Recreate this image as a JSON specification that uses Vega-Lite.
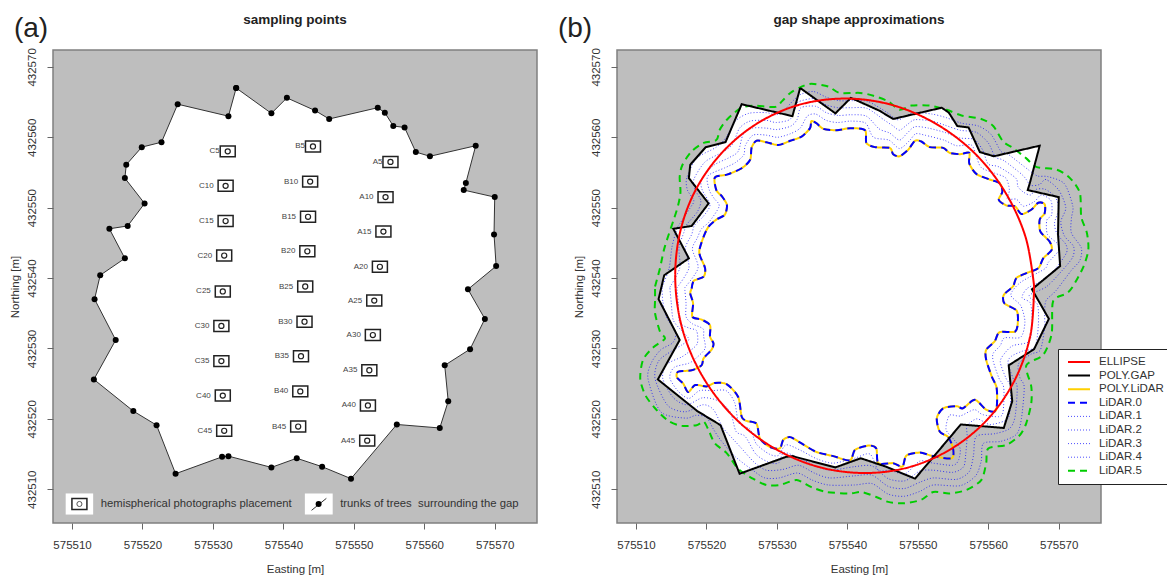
{"$schema":"https://vega.github.io/schema/vega-lite/v6.json","padding":{"left":8,"top":12,"right":0,"bottom":0},"bounds":"flush","spacing":80,
"config":{"font":"Liberation Sans","view":{"fill":"#BEBEBE","stroke":"#808080","strokeWidth":1.5},
"axis":{"grid":false,"domain":false,"tickColor":"#666666","tickSize":6,"tickWidth":1,"labelColor":"#333333","titleColor":"#333333","labelFontSize":11.5,"titleFontSize":11.5,"titleFontWeight":"normal","labelFlush":false,"labelOverlap":false},
"axisX":{"labelPadding":10,"titlePadding":13},"axisY":{"labelAngle":-90,"labelAlign":"center","labelBaseline":"bottom","labelPadding":10,"titlePadding":6},
"title":{"fontSize":13.5,"fontWeight":"bold","color":"#222222","offset":-12,"anchor":"middle"}},
"datasets":{
"trees":[{"e":575533.3,"n":432567.0},{"e":575538.3,"n":432563.4},{"e":575540.5,"n":432565.6},{"e":575544.5,"n":432563.8},{"e":575546.5,"n":432562.6},{"e":575553.4,"n":432564.2},{"e":575554.4,"n":432563.5},{"e":575555.6,"n":432561.6},{"e":575557.2,"n":432561.4},{"e":575558.8,"n":432557.9},{"e":575560.8,"n":432557.3},{"e":575567.3,"n":432558.8},{"e":575565.9,"n":432553.5},{"e":575565.6,"n":432552.5},{"e":575570.0,"n":432551.5},{"e":575569.9,"n":432546.2},{"e":575570.2,"n":432541.7},{"e":575566.2,"n":432538.4},{"e":575568.6,"n":432534.2},{"e":575566.5,"n":432529.9},{"e":575562.9,"n":432527.6},{"e":575563.4,"n":432522.5},{"e":575562.2,"n":432518.7},{"e":575556.1,"n":432519.2},{"e":575549.6,"n":432511.5},{"e":575545.5,"n":432513.2},{"e":575541.9,"n":432514.4},{"e":575538.3,"n":432513.1},{"e":575532.2,"n":432514.7},{"e":575531.3,"n":432514.6},{"e":575524.7,"n":432512.2},{"e":575522.0,"n":432519.1},{"e":575518.7,"n":432521.1},{"e":575513.1,"n":432525.6},{"e":575516.2,"n":432531.2},{"e":575513.2,"n":432537.0},{"e":575514.0,"n":432540.4},{"e":575517.5,"n":432542.8},{"e":575515.3,"n":432547.0},{"e":575517.9,"n":432547.4},{"e":575520.3,"n":432550.6},{"e":575517.5,"n":432554.2},{"e":575517.7,"n":432556.1},{"e":575519.9,"n":432558.6},{"e":575522.7,"n":432559.3},{"e":575525.0,"n":432564.7},{"e":575532.2,"n":432563.0},{"e":575533.3,"n":432567.0}],
"sites":[{"label":"C5","e":575532.1,"n":432558.0},{"label":"C10","e":575531.8,"n":432553.1},{"label":"C15","e":575531.8,"n":432548.1},{"label":"C20","e":575531.6,"n":432543.2},{"label":"C25","e":575531.4,"n":432538.1},{"label":"C30","e":575531.2,"n":432533.2},{"label":"C35","e":575531.2,"n":432528.2},{"label":"C40","e":575531.4,"n":432523.3},{"label":"C45","e":575531.6,"n":432518.3},{"label":"B5","e":575544.2,"n":432558.7},{"label":"B10","e":575543.8,"n":432553.7},{"label":"B15","e":575543.5,"n":432548.7},{"label":"B20","e":575543.4,"n":432543.8},{"label":"B25","e":575543.1,"n":432538.8},{"label":"B30","e":575543.0,"n":432533.8},{"label":"B35","e":575542.5,"n":432528.9},{"label":"B40","e":575542.4,"n":432523.9},{"label":"B45","e":575542.1,"n":432518.9},{"label":"A5","e":575555.2,"n":432556.5},{"label":"A10","e":575554.5,"n":432551.5},{"label":"A15","e":575554.2,"n":432546.6},{"label":"A20","e":575553.7,"n":432541.6},{"label":"A25","e":575552.9,"n":432536.8},{"label":"A30","e":575552.7,"n":432531.9},{"label":"A35","e":575552.2,"n":432526.9},{"label":"A40","e":575552.0,"n":432521.9},{"label":"A45","e":575551.9,"n":432516.9}],
"ellipse":[{"s":"ELLIPSE","e":575566.5,"n":432538.9},{"s":"ELLIPSE","e":575566.0,"n":432532.0},{"s":"ELLIPSE","e":575563.8,"n":432525.6},{"s":"ELLIPSE","e":575560.05,"n":432520.1},{"s":"ELLIPSE","e":575555.0,"n":432515.9},{"s":"ELLIPSE","e":575549.0,"n":432513.2},{"s":"ELLIPSE","e":575542.5,"n":432512.3},{"s":"ELLIPSE","e":575535.8,"n":432513.2},{"s":"ELLIPSE","e":575529.5,"n":432515.9},{"s":"ELLIPSE","e":575524.05,"n":432520.1},{"s":"ELLIPSE","e":575519.7,"n":432525.6},{"s":"ELLIPSE","e":575516.8,"n":432532.0},{"s":"ELLIPSE","e":575515.6,"n":432538.9},{"s":"ELLIPSE","e":575516.1,"n":432545.8},{"s":"ELLIPSE","e":575518.3,"n":432552.2},{"s":"ELLIPSE","e":575522.1,"n":432557.7},{"s":"ELLIPSE","e":575527.1,"n":432561.9},{"s":"ELLIPSE","e":575533.1,"n":432564.6},{"s":"ELLIPSE","e":575539.7,"n":432565.5},{"s":"ELLIPSE","e":575546.3,"n":432564.6},{"s":"ELLIPSE","e":575552.6,"n":432561.9},{"s":"ELLIPSE","e":575558.1,"n":432557.7},{"s":"ELLIPSE","e":575562.4,"n":432552.2},{"s":"ELLIPSE","e":575565.3,"n":432545.8},{"s":"ELLIPSE","e":575566.5,"n":432538.9}],
"dots":[
{"s":"LiDAR.1","e":575516.9,"n":432538.6},{"s":"LiDAR.1","e":575518.8,"n":432541.4},{"s":"LiDAR.1","e":575518.0,"n":432544.1},{"s":"LiDAR.1","e":575518.7,"n":432545.7},{"s":"LiDAR.1","e":575519.3,"n":432547.0},{"s":"LiDAR.1","e":575520.4,"n":432548.0},{"s":"LiDAR.1","e":575521.8,"n":432550.2},{"s":"LiDAR.1","e":575521.1,"n":432551.3},{"s":"LiDAR.1","e":575520.4,"n":432552.5},{"s":"LiDAR.1","e":575520.2,"n":432554.5},{"s":"LiDAR.1","e":575522.7,"n":432555.7},{"s":"LiDAR.1","e":575524.1,"n":432556.4},{"s":"LiDAR.1","e":575525.3,"n":432557.5},{"s":"LiDAR.1","e":575525.5,"n":432558.8},{"s":"LiDAR.1","e":575526.6,"n":432560.3},{"s":"LiDAR.1","e":575528.5,"n":432560.3},{"s":"LiDAR.1","e":575530.1,"n":432560.0},{"s":"LiDAR.1","e":575531.9,"n":432560.5},{"s":"LiDAR.1","e":575533.3,"n":432561.3},{"s":"LiDAR.1","e":575534.3,"n":432563.0},{"s":"LiDAR.1","e":575535.5,"n":432563.3},{"s":"LiDAR.1","e":575537.0,"n":432562.4},{"s":"LiDAR.1","e":575538.6,"n":432562.1},{"s":"LiDAR.1","e":575540.5,"n":432562.3},{"s":"LiDAR.1","e":575542.6,"n":432562.0},{"s":"LiDAR.1","e":575543.7,"n":432560.0},{"s":"LiDAR.1","e":575545.9,"n":432559.6},{"s":"LiDAR.1","e":575547.4,"n":432558.4},{"s":"LiDAR.1","e":575548.8,"n":432559.5},{"s":"LiDAR.1","e":575549.7,"n":432560.5},{"s":"LiDAR.1","e":575551.0,"n":432560.3},{"s":"LiDAR.1","e":575553.7,"n":432559.6},{"s":"LiDAR.1","e":575555.5,"n":432558.8},{"s":"LiDAR.1","e":575557.6,"n":432558.9},{"s":"LiDAR.1","e":575558.3,"n":432557.3},{"s":"LiDAR.1","e":575559.0,"n":432555.7},{"s":"LiDAR.1","e":575560.9,"n":432554.9},{"s":"LiDAR.1","e":575562.5,"n":432554.2},{"s":"LiDAR.1","e":575563.0,"n":432552.5},{"s":"LiDAR.1","e":575562.7,"n":432551.2},{"s":"LiDAR.1","e":575564.0,"n":432551.2},{"s":"LiDAR.1","e":575565.0,"n":432550.2},{"s":"LiDAR.1","e":575566.6,"n":432550.9},{"s":"LiDAR.1","e":575567.5,"n":432551.8},{"s":"LiDAR.1","e":575568.9,"n":432551.0},{"s":"LiDAR.1","e":575569.0,"n":432549.0},{"s":"LiDAR.1","e":575568.3,"n":432548.2},{"s":"LiDAR.1","e":575568.4,"n":432546.2},{"s":"LiDAR.1","e":575569.8,"n":432544.9},{"s":"LiDAR.1","e":575570.0,"n":432543.9},{"s":"LiDAR.1","e":575568.5,"n":432542.2},{"s":"LiDAR.1","e":575568.0,"n":432541.3},{"s":"LiDAR.1","e":575564.6,"n":432539.4},{"s":"LiDAR.1","e":575563.2,"n":432537.6},{"s":"LiDAR.1","e":575564.6,"n":432536.1},{"s":"LiDAR.1","e":575565.2,"n":432533.8},{"s":"LiDAR.1","e":575564.6,"n":432531.6},{"s":"LiDAR.1","e":575562.3,"n":432531.5},{"s":"LiDAR.1","e":575561.7,"n":432530.4},{"s":"LiDAR.1","e":575560.7,"n":432529.3},{"s":"LiDAR.1","e":575560.7,"n":432528.2},{"s":"LiDAR.1","e":575561.5,"n":432525.8},{"s":"LiDAR.1","e":575562.2,"n":432524.4},{"s":"LiDAR.1","e":575562.1,"n":432521.0},{"s":"LiDAR.1","e":575561.5,"n":432520.3},{"s":"LiDAR.1","e":575559.2,"n":432520.6},{"s":"LiDAR.1","e":575558.0,"n":432521.3},{"s":"LiDAR.1","e":575556.0,"n":432520.4},{"s":"LiDAR.1","e":575554.5,"n":432520.5},{"s":"LiDAR.1","e":575554.0,"n":432518.5},{"s":"LiDAR.1","e":575555.0,"n":432517.2},{"s":"LiDAR.1","e":575556.0,"n":432515.8},{"s":"LiDAR.1","e":575555.8,"n":432514.2},{"s":"LiDAR.1","e":575555.0,"n":432513.4},{"s":"LiDAR.1","e":575552.2,"n":432513.7},{"s":"LiDAR.1","e":575550.3,"n":432514.0},{"s":"LiDAR.1","e":575548.2,"n":432512.2},{"s":"LiDAR.1","e":575546.0,"n":432512.7},{"s":"LiDAR.1","e":575544.4,"n":432512.7},{"s":"LiDAR.1","e":575543.2,"n":432515.0},{"s":"LiDAR.1","e":575541.0,"n":432514.4},{"s":"LiDAR.1","e":575538.0,"n":432513.7},{"s":"LiDAR.1","e":575535.7,"n":432514.3},{"s":"LiDAR.1","e":575533.4,"n":432515.5},{"s":"LiDAR.1","e":575531.3,"n":432516.3},{"s":"LiDAR.1","e":575530.2,"n":432514.8},{"s":"LiDAR.1","e":575528.9,"n":432515.0},{"s":"LiDAR.1","e":575527.1,"n":432516.4},{"s":"LiDAR.1","e":575526.2,"n":432518.5},{"s":"LiDAR.1","e":575524.6,"n":432519.4},{"s":"LiDAR.1","e":575524.0,"n":432522.3},{"s":"LiDAR.1","e":575522.8,"n":432524.0},{"s":"LiDAR.1","e":575520.8,"n":432524.0},{"s":"LiDAR.1","e":575519.0,"n":432524.0},{"s":"LiDAR.1","e":575517.5,"n":432522.9},{"s":"LiDAR.1","e":575516.0,"n":432523.9},{"s":"LiDAR.1","e":575514.8,"n":432525.8},{"s":"LiDAR.1","e":575515.4,"n":432527.3},{"s":"LiDAR.1","e":575517.5,"n":432527.9},{"s":"LiDAR.1","e":575518.5,"n":432528.6},{"s":"LiDAR.1","e":575519.8,"n":432530.0},{"s":"LiDAR.1","e":575519.6,"n":432531.7},{"s":"LiDAR.1","e":575519.5,"n":432532.8},{"s":"LiDAR.1","e":575518.0,"n":432533.5},{"s":"LiDAR.1","e":575517.1,"n":432534.5},{"s":"LiDAR.1","e":575517.1,"n":432536.4},{"s":"LiDAR.1","e":575516.9,"n":432538.6},
{"s":"LiDAR.2","e":575515.8,"n":432538.6},{"s":"LiDAR.2","e":575517.5,"n":432541.4},{"s":"LiDAR.2","e":575517.0,"n":432544.2},{"s":"LiDAR.2","e":575517.9,"n":432546.2},{"s":"LiDAR.2","e":575518.3,"n":432547.5},{"s":"LiDAR.2","e":575519.5,"n":432548.7},{"s":"LiDAR.2","e":575520.5,"n":432550.4},{"s":"LiDAR.2","e":575519.4,"n":432552.5},{"s":"LiDAR.2","e":575519.3,"n":432554.0},{"s":"LiDAR.2","e":575521.0,"n":432556.0},{"s":"LiDAR.2","e":575523.2,"n":432557.1},{"s":"LiDAR.2","e":575524.5,"n":432558.0},{"s":"LiDAR.2","e":575525.2,"n":432560.4},{"s":"LiDAR.2","e":575526.5,"n":432561.3},{"s":"LiDAR.2","e":575528.5,"n":432561.3},{"s":"LiDAR.2","e":575530.0,"n":432561.1},{"s":"LiDAR.2","e":575532.0,"n":432561.6},{"s":"LiDAR.2","e":575532.9,"n":432562.6},{"s":"LiDAR.2","e":575533.4,"n":432564.2},{"s":"LiDAR.2","e":575535.5,"n":432564.4},{"s":"LiDAR.2","e":575537.0,"n":432563.5},{"s":"LiDAR.2","e":575538.7,"n":432563.1},{"s":"LiDAR.2","e":575540.5,"n":432563.2},{"s":"LiDAR.2","e":575542.7,"n":432563.0},{"s":"LiDAR.2","e":575544.5,"n":432561.2},{"s":"LiDAR.2","e":575546.0,"n":432560.6},{"s":"LiDAR.2","e":575547.4,"n":432559.6},{"s":"LiDAR.2","e":575548.5,"n":432560.6},{"s":"LiDAR.2","e":575549.6,"n":432561.5},{"s":"LiDAR.2","e":575551.5,"n":432561.3},{"s":"LiDAR.2","e":575553.8,"n":432560.7},{"s":"LiDAR.2","e":575556.0,"n":432559.9},{"s":"LiDAR.2","e":575558.0,"n":432559.7},{"s":"LiDAR.2","e":575559.2,"n":432558.2},{"s":"LiDAR.2","e":575560.0,"n":432556.2},{"s":"LiDAR.2","e":575561.5,"n":432555.8},{"s":"LiDAR.2","e":575563.9,"n":432554.2},{"s":"LiDAR.2","e":575564.2,"n":432553.0},{"s":"LiDAR.2","e":575565.0,"n":432552.2},{"s":"LiDAR.2","e":575566.0,"n":432551.8},{"s":"LiDAR.2","e":575566.8,"n":432552.6},{"s":"LiDAR.2","e":575568.1,"n":432552.6},{"s":"LiDAR.2","e":575569.5,"n":432551.5},{"s":"LiDAR.2","e":575570.0,"n":432549.8},{"s":"LiDAR.2","e":575569.4,"n":432547.8},{"s":"LiDAR.2","e":575569.8,"n":432546.2},{"s":"LiDAR.2","e":575571.0,"n":432544.8},{"s":"LiDAR.2","e":575571.1,"n":432543.6},{"s":"LiDAR.2","e":575569.5,"n":432541.3},{"s":"LiDAR.2","e":575567.5,"n":432539.6},{"s":"LiDAR.2","e":575565.5,"n":432538.5},{"s":"LiDAR.2","e":575564.8,"n":432537.2},{"s":"LiDAR.2","e":575566.0,"n":432536.4},{"s":"LiDAR.2","e":575566.2,"n":432533.5},{"s":"LiDAR.2","e":575565.8,"n":432531.0},{"s":"LiDAR.2","e":575563.5,"n":432530.4},{"s":"LiDAR.2","e":575562.4,"n":432529.4},{"s":"LiDAR.2","e":575561.7,"n":432528.1},{"s":"LiDAR.2","e":575562.5,"n":432525.8},{"s":"LiDAR.2","e":575563.2,"n":432524.4},{"s":"LiDAR.2","e":575563.0,"n":432520.6},{"s":"LiDAR.2","e":575562.3,"n":432519.7},{"s":"LiDAR.2","e":575560.2,"n":432519.2},{"s":"LiDAR.2","e":575558.4,"n":432520.0},{"s":"LiDAR.2","e":575557.0,"n":432519.0},{"s":"LiDAR.2","e":575557.0,"n":432517.5},{"s":"LiDAR.2","e":575556.8,"n":432515.0},{"s":"LiDAR.2","e":575556.5,"n":432513.2},{"s":"LiDAR.2","e":575555.0,"n":432512.4},{"s":"LiDAR.2","e":575552.2,"n":432512.7},{"s":"LiDAR.2","e":575550.3,"n":432512.6},{"s":"LiDAR.2","e":575548.2,"n":432511.2},{"s":"LiDAR.2","e":575545.8,"n":432511.5},{"s":"LiDAR.2","e":575543.5,"n":432513.3},{"s":"LiDAR.2","e":575541.0,"n":432513.2},{"s":"LiDAR.2","e":575537.6,"n":432512.7},{"s":"LiDAR.2","e":575535.5,"n":432513.3},{"s":"LiDAR.2","e":575533.2,"n":432514.4},{"s":"LiDAR.2","e":575531.0,"n":432515.2},{"s":"LiDAR.2","e":575530.2,"n":432513.7},{"s":"LiDAR.2","e":575528.7,"n":432513.9},{"s":"LiDAR.2","e":575527.0,"n":432515.0},{"s":"LiDAR.2","e":575525.5,"n":432517.5},{"s":"LiDAR.2","e":575524.2,"n":432518.2},{"s":"LiDAR.2","e":575523.4,"n":432520.9},{"s":"LiDAR.2","e":575521.8,"n":432522.5},{"s":"LiDAR.2","e":575519.5,"n":432523.0},{"s":"LiDAR.2","e":575517.2,"n":432522.0},{"s":"LiDAR.2","e":575515.3,"n":432523.0},{"s":"LiDAR.2","e":575513.8,"n":432525.7},{"s":"LiDAR.2","e":575514.3,"n":432527.7},{"s":"LiDAR.2","e":575516.5,"n":432528.8},{"s":"LiDAR.2","e":575517.6,"n":432529.6},{"s":"LiDAR.2","e":575518.7,"n":432530.7},{"s":"LiDAR.2","e":575518.6,"n":432532.5},{"s":"LiDAR.2","e":575517.5,"n":432532.9},{"s":"LiDAR.2","e":575516.2,"n":432533.7},{"s":"LiDAR.2","e":575516.0,"n":432536.4},{"s":"LiDAR.2","e":575515.8,"n":432538.6},
{"s":"LiDAR.3","e":575514.8,"n":432538.7},{"s":"LiDAR.3","e":575516.2,"n":432541.4},{"s":"LiDAR.3","e":575516.1,"n":432544.3},{"s":"LiDAR.3","e":575516.8,"n":432546.5},{"s":"LiDAR.3","e":575517.2,"n":432547.6},{"s":"LiDAR.3","e":575518.7,"n":432549.4},{"s":"LiDAR.3","e":575519.2,"n":432551.0},{"s":"LiDAR.3","e":575518.4,"n":432552.5},{"s":"LiDAR.3","e":575518.2,"n":432554.0},{"s":"LiDAR.3","e":575519.8,"n":432556.5},{"s":"LiDAR.3","e":575522.3,"n":432557.9},{"s":"LiDAR.3","e":575523.7,"n":432559.0},{"s":"LiDAR.3","e":575524.7,"n":432561.3},{"s":"LiDAR.3","e":575526.2,"n":432562.3},{"s":"LiDAR.3","e":575528.5,"n":432562.4},{"s":"LiDAR.3","e":575529.9,"n":432562.1},{"s":"LiDAR.3","e":575531.8,"n":432562.5},{"s":"LiDAR.3","e":575532.5,"n":432563.8},{"s":"LiDAR.3","e":575533.0,"n":432565.0},{"s":"LiDAR.3","e":575535.3,"n":432565.5},{"s":"LiDAR.3","e":575537.0,"n":432564.6},{"s":"LiDAR.3","e":575538.7,"n":432564.2},{"s":"LiDAR.3","e":575540.5,"n":432564.2},{"s":"LiDAR.3","e":575542.8,"n":432564.1},{"s":"LiDAR.3","e":575545.3,"n":432562.4},{"s":"LiDAR.3","e":575546.5,"n":432561.6},{"s":"LiDAR.3","e":575547.4,"n":432561.0},{"s":"LiDAR.3","e":575548.5,"n":432561.8},{"s":"LiDAR.3","e":575549.6,"n":432562.5},{"s":"LiDAR.3","e":575552.0,"n":432562.3},{"s":"LiDAR.3","e":575553.9,"n":432561.7},{"s":"LiDAR.3","e":575556.0,"n":432561.0},{"s":"LiDAR.3","e":575558.3,"n":432560.7},{"s":"LiDAR.3","e":575560.0,"n":432559.2},{"s":"LiDAR.3","e":575561.0,"n":432557.2},{"s":"LiDAR.3","e":575562.2,"n":432556.7},{"s":"LiDAR.3","e":575564.9,"n":432554.6},{"s":"LiDAR.3","e":575566.0,"n":432553.2},{"s":"LiDAR.3","e":575567.3,"n":432553.3},{"s":"LiDAR.3","e":575568.2,"n":432554.0},{"s":"LiDAR.3","e":575570.0,"n":432552.5},{"s":"LiDAR.3","e":575571.0,"n":432550.0},{"s":"LiDAR.3","e":575570.3,"n":432548.0},{"s":"LiDAR.3","e":575570.8,"n":432546.0},{"s":"LiDAR.3","e":575572.1,"n":432544.5},{"s":"LiDAR.3","e":575572.0,"n":432543.0},{"s":"LiDAR.3","e":575570.6,"n":432541.2},{"s":"LiDAR.3","e":575568.3,"n":432538.8},{"s":"LiDAR.3","e":575565.8,"n":432537.5},{"s":"LiDAR.3","e":575567.0,"n":432536.2},{"s":"LiDAR.3","e":575567.1,"n":432533.2},{"s":"LiDAR.3","e":575566.6,"n":432530.2},{"s":"LiDAR.3","e":575564.8,"n":432529.6},{"s":"LiDAR.3","e":575563.3,"n":432528.9},{"s":"LiDAR.3","e":575562.8,"n":432528.0},{"s":"LiDAR.3","e":575563.5,"n":432525.8},{"s":"LiDAR.3","e":575564.1,"n":432524.5},{"s":"LiDAR.3","e":575563.8,"n":432520.3},{"s":"LiDAR.3","e":575563.0,"n":432518.6},{"s":"LiDAR.3","e":575561.0,"n":432517.9},{"s":"LiDAR.3","e":575558.3,"n":432517.5},{"s":"LiDAR.3","e":575557.9,"n":432514.8},{"s":"LiDAR.3","e":575557.3,"n":432512.5},{"s":"LiDAR.3","e":575555.5,"n":432511.4},{"s":"LiDAR.3","e":575552.2,"n":432511.6},{"s":"LiDAR.3","e":575550.3,"n":432511.0},{"s":"LiDAR.3","e":575548.1,"n":432510.1},{"s":"LiDAR.3","e":575545.8,"n":432510.4},{"s":"LiDAR.3","e":575543.5,"n":432512.0},{"s":"LiDAR.3","e":575541.0,"n":432511.9},{"s":"LiDAR.3","e":575537.5,"n":432511.6},{"s":"LiDAR.3","e":575535.3,"n":432512.3},{"s":"LiDAR.3","e":575533.1,"n":432513.4},{"s":"LiDAR.3","e":575530.8,"n":432512.8},{"s":"LiDAR.3","e":575528.5,"n":432512.7},{"s":"LiDAR.3","e":575526.8,"n":432513.8},{"s":"LiDAR.3","e":575524.8,"n":432516.0},{"s":"LiDAR.3","e":575523.7,"n":432517.2},{"s":"LiDAR.3","e":575522.3,"n":432518.8},{"s":"LiDAR.3","e":575521.0,"n":432521.3},{"s":"LiDAR.3","e":575519.5,"n":432522.0},{"s":"LiDAR.3","e":575517.0,"n":432521.0},{"s":"LiDAR.3","e":575514.5,"n":432521.9},{"s":"LiDAR.3","e":575512.7,"n":432525.7},{"s":"LiDAR.3","e":575513.2,"n":432528.2},{"s":"LiDAR.3","e":575515.0,"n":432529.6},{"s":"LiDAR.3","e":575516.5,"n":432530.5},{"s":"LiDAR.3","e":575517.5,"n":432531.3},{"s":"LiDAR.3","e":575516.5,"n":432532.5},{"s":"LiDAR.3","e":575515.3,"n":432534.0},{"s":"LiDAR.3","e":575515.0,"n":432536.5},{"s":"LiDAR.3","e":575514.8,"n":432538.7},
{"s":"LiDAR.4","e":575513.7,"n":432538.7},{"s":"LiDAR.4","e":575514.7,"n":432541.4},{"s":"LiDAR.4","e":575515.1,"n":432544.4},{"s":"LiDAR.4","e":575515.8,"n":432547.0},{"s":"LiDAR.4","e":575516.2,"n":432547.7},{"s":"LiDAR.4","e":575517.7,"n":432550.0},{"s":"LiDAR.4","e":575518.2,"n":432551.0},{"s":"LiDAR.4","e":575517.3,"n":432552.5},{"s":"LiDAR.4","e":575517.2,"n":432554.2},{"s":"LiDAR.4","e":575518.6,"n":432557.0},{"s":"LiDAR.4","e":575521.4,"n":432558.6},{"s":"LiDAR.4","e":575522.8,"n":432560.0},{"s":"LiDAR.4","e":575524.1,"n":432562.3},{"s":"LiDAR.4","e":575526.0,"n":432563.4},{"s":"LiDAR.4","e":575528.5,"n":432563.5},{"s":"LiDAR.4","e":575529.8,"n":432563.2},{"s":"LiDAR.4","e":575531.0,"n":432563.8},{"s":"LiDAR.4","e":575532.2,"n":432565.1},{"s":"LiDAR.4","e":575533.4,"n":432566.1},{"s":"LiDAR.4","e":575535.2,"n":432566.5},{"s":"LiDAR.4","e":575537.0,"n":432565.7},{"s":"LiDAR.4","e":575538.8,"n":432565.2},{"s":"LiDAR.4","e":575540.8,"n":432565.2},{"s":"LiDAR.4","e":575542.9,"n":432565.1},{"s":"LiDAR.4","e":575545.5,"n":432563.6},{"s":"LiDAR.4","e":575546.7,"n":432562.7},{"s":"LiDAR.4","e":575547.4,"n":432562.5},{"s":"LiDAR.4","e":575548.8,"n":432563.3},{"s":"LiDAR.4","e":575549.6,"n":432563.5},{"s":"LiDAR.4","e":575552.0,"n":432563.3},{"s":"LiDAR.4","e":575554.0,"n":432562.8},{"s":"LiDAR.4","e":575556.2,"n":432562.0},{"s":"LiDAR.4","e":575558.6,"n":432561.6},{"s":"LiDAR.4","e":575560.4,"n":432560.4},{"s":"LiDAR.4","e":575561.8,"n":432558.0},{"s":"LiDAR.4","e":575562.8,"n":432557.6},{"s":"LiDAR.4","e":575565.8,"n":432555.3},{"s":"LiDAR.4","e":575567.0,"n":432554.5},{"s":"LiDAR.4","e":575568.5,"n":432554.4},{"s":"LiDAR.4","e":575570.8,"n":432553.4},{"s":"LiDAR.4","e":575572.0,"n":432550.2},{"s":"LiDAR.4","e":575571.8,"n":432548.5},{"s":"LiDAR.4","e":575571.8,"n":432546.4},{"s":"LiDAR.4","e":575573.2,"n":432544.3},{"s":"LiDAR.4","e":575573.0,"n":432542.5},{"s":"LiDAR.4","e":575571.8,"n":432541.1},{"s":"LiDAR.4","e":575569.6,"n":432538.2},{"s":"LiDAR.4","e":575568.2,"n":432536.8},{"s":"LiDAR.4","e":575568.0,"n":432535.0},{"s":"LiDAR.4","e":575568.0,"n":432533.0},{"s":"LiDAR.4","e":575567.4,"n":432529.8},{"s":"LiDAR.4","e":575566.1,"n":432529.2},{"s":"LiDAR.4","e":575564.3,"n":432527.8},{"s":"LiDAR.4","e":575564.5,"n":432525.8},{"s":"LiDAR.4","e":575565.1,"n":432524.5},{"s":"LiDAR.4","e":575564.7,"n":432520.0},{"s":"LiDAR.4","e":575564.0,"n":432517.8},{"s":"LiDAR.4","e":575561.8,"n":432516.8},{"s":"LiDAR.4","e":575559.3,"n":432516.5},{"s":"LiDAR.4","e":575559.0,"n":432514.0},{"s":"LiDAR.4","e":575558.2,"n":432511.9},{"s":"LiDAR.4","e":575556.0,"n":432510.5},{"s":"LiDAR.4","e":575552.2,"n":432510.6},{"s":"LiDAR.4","e":575550.3,"n":432509.7},{"s":"LiDAR.4","e":575548.1,"n":432509.0},{"s":"LiDAR.4","e":575545.8,"n":432509.3},{"s":"LiDAR.4","e":575543.5,"n":432510.8},{"s":"LiDAR.4","e":575541.0,"n":432510.6},{"s":"LiDAR.4","e":575537.3,"n":432510.6},{"s":"LiDAR.4","e":575535.0,"n":432511.3},{"s":"LiDAR.4","e":575532.9,"n":432512.3},{"s":"LiDAR.4","e":575530.3,"n":432511.6},{"s":"LiDAR.4","e":575528.3,"n":432511.6},{"s":"LiDAR.4","e":575526.7,"n":432512.6},{"s":"LiDAR.4","e":575524.0,"n":432514.7},{"s":"LiDAR.4","e":575522.0,"n":432517.0},{"s":"LiDAR.4","e":575521.0,"n":432518.5},{"s":"LiDAR.4","e":575520.0,"n":432520.2},{"s":"LiDAR.4","e":575518.5,"n":432520.5},{"s":"LiDAR.4","e":575517.0,"n":432520.1},{"s":"LiDAR.4","e":575513.5,"n":432521.0},{"s":"LiDAR.4","e":575511.7,"n":432525.7},{"s":"LiDAR.4","e":575512.2,"n":432528.0},{"s":"LiDAR.4","e":575513.5,"n":432529.8},{"s":"LiDAR.4","e":575515.2,"n":432530.8},{"s":"LiDAR.4","e":575515.6,"n":432532.2},{"s":"LiDAR.4","e":575514.3,"n":432534.5},{"s":"LiDAR.4","e":575513.8,"n":432536.7},{"s":"LiDAR.4","e":575513.7,"n":432538.7},
{"s":"LiDAR.5","e":575512.7,"n":432538.8},{"s":"LiDAR.5","e":575513.4,"n":432541.4},{"s":"LiDAR.5","e":575514.1,"n":432544.5},{"s":"LiDAR.5","e":575515.8,"n":432549.7},{"s":"LiDAR.5","e":575516.3,"n":432552.1},{"s":"LiDAR.5","e":575516.2,"n":432554.4},{"s":"LiDAR.5","e":575516.6,"n":432556.1},{"s":"LiDAR.5","e":575517.9,"n":432558.0},{"s":"LiDAR.5","e":575519.6,"n":432559.2},{"s":"LiDAR.5","e":575521.4,"n":432559.6},{"s":"LiDAR.5","e":575521.9,"n":432561.1},{"s":"LiDAR.5","e":575522.9,"n":432562.5},{"s":"LiDAR.5","e":575524.8,"n":432564.1},{"s":"LiDAR.5","e":575526.6,"n":432564.5},{"s":"LiDAR.5","e":575529.7,"n":432564.3},{"s":"LiDAR.5","e":575530.7,"n":432565.1},{"s":"LiDAR.5","e":575531.9,"n":432566.3},{"s":"LiDAR.5","e":575533.5,"n":432567.2},{"s":"LiDAR.5","e":575534.9,"n":432567.6},{"s":"LiDAR.5","e":575537.3,"n":432567.2},{"s":"LiDAR.5","e":575538.9,"n":432566.3},{"s":"LiDAR.5","e":575541.8,"n":432566.3},{"s":"LiDAR.5","e":575543.7,"n":432565.9},{"s":"LiDAR.5","e":575545.8,"n":432565.1},{"s":"LiDAR.5","e":575547.4,"n":432563.9},{"s":"LiDAR.5","e":575549.1,"n":432564.5},{"s":"LiDAR.5","e":575551.7,"n":432564.5},{"s":"LiDAR.5","e":575554.1,"n":432563.9},{"s":"LiDAR.5","e":575556.2,"n":432563.1},{"s":"LiDAR.5","e":575559.0,"n":432562.6},{"s":"LiDAR.5","e":575560.7,"n":432561.6},{"s":"LiDAR.5","e":575562.1,"n":432559.4},{"s":"LiDAR.5","e":575563.5,"n":432558.5},{"s":"LiDAR.5","e":575565.4,"n":432557.0},{"s":"LiDAR.5","e":575566.8,"n":432555.8},{"s":"LiDAR.5","e":575569.7,"n":432555.4},{"s":"LiDAR.5","e":575571.6,"n":432554.2},{"s":"LiDAR.5","e":575573.0,"n":432552.1},{"s":"LiDAR.5","e":575573.2,"n":432548.7},{"s":"LiDAR.5","e":575574.0,"n":432546.4},{"s":"LiDAR.5","e":575574.2,"n":432544.0},{"s":"LiDAR.5","e":575573.5,"n":432541.6},{"s":"LiDAR.5","e":575572.0,"n":432538.8},{"s":"LiDAR.5","e":575571.1,"n":432537.8},{"s":"LiDAR.5","e":575569.2,"n":432536.7},{"s":"LiDAR.5","e":575569.0,"n":432532.1},{"s":"LiDAR.5","e":575567.8,"n":432529.1},{"s":"LiDAR.5","e":575565.4,"n":432527.6},{"s":"LiDAR.5","e":575566.1,"n":432524.6},{"s":"LiDAR.5","e":575566.1,"n":432522.2},{"s":"LiDAR.5","e":575565.4,"n":432519.4},{"s":"LiDAR.5","e":575564.5,"n":432517.7},{"s":"LiDAR.5","e":575562.6,"n":432516.3},{"s":"LiDAR.5","e":575560.0,"n":432515.8},{"s":"LiDAR.5","e":575559.7,"n":432513.7},{"s":"LiDAR.5","e":575559.0,"n":432511.3},{"s":"LiDAR.5","e":575556.9,"n":432509.9},{"s":"LiDAR.5","e":575554.5,"n":432509.4},{"s":"LiDAR.5","e":575552.2,"n":432509.6},{"s":"LiDAR.5","e":575550.5,"n":432508.5},{"s":"LiDAR.5","e":575548.1,"n":432508.0},{"s":"LiDAR.5","e":575545.8,"n":432508.2},{"s":"LiDAR.5","e":575544.1,"n":432508.9},{"s":"LiDAR.5","e":575542.0,"n":432509.6},{"s":"LiDAR.5","e":575540.35,"n":432509.4},{"s":"LiDAR.5","e":575537.1,"n":432509.6},{"s":"LiDAR.5","e":575534.9,"n":432510.3},{"s":"LiDAR.5","e":575532.8,"n":432511.3},{"s":"LiDAR.5","e":575530.4,"n":432510.6},{"s":"LiDAR.5","e":575528.5,"n":432510.6},{"s":"LiDAR.5","e":575526.6,"n":432511.5},{"s":"LiDAR.5","e":575524.5,"n":432512.9},{"s":"LiDAR.5","e":575522.9,"n":432515.1},{"s":"LiDAR.5","e":575521.2,"n":432516.5},{"s":"LiDAR.5","e":575520.3,"n":432518.4},{"s":"LiDAR.5","e":575519.6,"n":432519.6},{"s":"LiDAR.5","e":575518.6,"n":432519.1},{"s":"LiDAR.5","e":575516.5,"n":432519.0},{"s":"LiDAR.5","e":575514.6,"n":432519.7},{"s":"LiDAR.5","e":575512.7,"n":432521.5},{"s":"LiDAR.5","e":575511.3,"n":432523.4},{"s":"LiDAR.5","e":575510.6,"n":432525.7},{"s":"LiDAR.5","e":575511.0,"n":432528.4},{"s":"LiDAR.5","e":575512.5,"n":432530.2},{"s":"LiDAR.5","e":575514.1,"n":432531.4},{"s":"LiDAR.5","e":575513.4,"n":432532.4},{"s":"LiDAR.5","e":575512.7,"n":432535.0},{"s":"LiDAR.5","e":575512.7,"n":432536.9},{"s":"LiDAR.5","e":575512.7,"n":432538.8}],
"zero":[{"s":"LiDAR.0","e":575517.9,"n":432538.5},{"s":"LiDAR.0","e":575518.2,"n":432539.6},{"s":"LiDAR.0","e":575519.6,"n":432540.2},{"s":"LiDAR.0","e":575519.8,"n":432541.4},{"s":"LiDAR.0","e":575519.1,"n":432543.1},{"s":"LiDAR.0","e":575519.0,"n":432544.0},{"s":"LiDAR.0","e":575519.6,"n":432545.9},{"s":"LiDAR.0","e":575520.3,"n":432547.3},{"s":"LiDAR.0","e":575521.4,"n":432548.3},{"s":"LiDAR.0","e":575522.6,"n":432549.0},{"s":"LiDAR.0","e":575522.9,"n":432550.4},{"s":"LiDAR.0","e":575522.2,"n":432551.6},{"s":"LiDAR.0","e":575521.4,"n":432552.5},{"s":"LiDAR.0","e":575521.2,"n":432554.3},{"s":"LiDAR.0","e":575522.9,"n":432554.7},{"s":"LiDAR.0","e":575525.0,"n":432555.6},{"s":"LiDAR.0","e":575526.2,"n":432556.8},{"s":"LiDAR.0","e":575526.4,"n":432558.5},{"s":"LiDAR.0","e":575527.1,"n":432559.5},{"s":"LiDAR.0","e":575528.5,"n":432559.3},{"s":"LiDAR.0","e":575530.2,"n":432558.9},{"s":"LiDAR.0","e":575531.9,"n":432559.5},{"s":"LiDAR.0","e":575533.5,"n":432560.1},{"s":"LiDAR.0","e":575534.7,"n":432561.3},{"s":"LiDAR.0","e":575534.9,"n":432562.3},{"s":"LiDAR.0","e":575535.6,"n":432562.0},{"s":"LiDAR.0","e":575536.6,"n":432561.2},{"s":"LiDAR.0","e":575538.5,"n":432561.0},{"s":"LiDAR.0","e":575540.4,"n":432561.3},{"s":"LiDAR.0","e":575542.5,"n":432561.0},{"s":"LiDAR.0","e":575542.7,"n":432559.2},{"s":"LiDAR.0","e":575543.9,"n":432558.6},{"s":"LiDAR.0","e":575546.0,"n":432558.5},{"s":"LiDAR.0","e":575546.5,"n":432557.6},{"s":"LiDAR.0","e":575547.4,"n":432557.3},{"s":"LiDAR.0","e":575548.6,"n":432558.2},{"s":"LiDAR.0","e":575549.6,"n":432559.5},{"s":"LiDAR.0","e":575550.5,"n":432559.4},{"s":"LiDAR.0","e":575551.7,"n":432558.6},{"s":"LiDAR.0","e":575553.6,"n":432558.5},{"s":"LiDAR.0","e":575554.5,"n":432557.8},{"s":"LiDAR.0","e":575556.0,"n":432557.6},{"s":"LiDAR.0","e":575557.3,"n":432557.8},{"s":"LiDAR.0","e":575557.3,"n":432556.3},{"s":"LiDAR.0","e":575558.3,"n":432554.8},{"s":"LiDAR.0","e":575560.2,"n":432554.0},{"s":"LiDAR.0","e":575561.6,"n":432553.5},{"s":"LiDAR.0","e":575562.0,"n":432552.3},{"s":"LiDAR.0","e":575561.5,"n":432551.1},{"s":"LiDAR.0","e":575562.6,"n":432550.3},{"s":"LiDAR.0","e":575563.8,"n":432550.2},{"s":"LiDAR.0","e":575564.7,"n":432549.1},{"s":"LiDAR.0","e":575566.1,"n":432549.7},{"s":"LiDAR.0","e":575567.1,"n":432550.7},{"s":"LiDAR.0","e":575568.0,"n":432550.5},{"s":"LiDAR.0","e":575568.0,"n":432549.2},{"s":"LiDAR.0","e":575567.3,"n":432548.3},{"s":"LiDAR.0","e":575567.4,"n":432546.6},{"s":"LiDAR.0","e":575568.7,"n":432545.2},{"s":"LiDAR.0","e":575569.0,"n":432544.0},{"s":"LiDAR.0","e":575567.8,"n":432542.8},{"s":"LiDAR.0","e":575567.1,"n":432541.4},{"s":"LiDAR.0","e":575565.4,"n":432540.7},{"s":"LiDAR.0","e":575564.0,"n":432540.0},{"s":"LiDAR.0","e":575563.5,"n":432538.8},{"s":"LiDAR.0","e":575562.2,"n":432537.6},{"s":"LiDAR.0","e":575562.3,"n":432536.4},{"s":"LiDAR.0","e":575564.0,"n":432535.4},{"s":"LiDAR.0","e":575564.2,"n":432533.8},{"s":"LiDAR.0","e":575563.8,"n":432532.4},{"s":"LiDAR.0","e":575561.6,"n":432532.3},{"s":"LiDAR.0","e":575560.9,"n":432531.0},{"s":"LiDAR.0","e":575559.7,"n":432529.8},{"s":"LiDAR.0","e":575559.7,"n":432528.4},{"s":"LiDAR.0","e":575560.5,"n":432526.0},{"s":"LiDAR.0","e":575561.2,"n":432524.3},{"s":"LiDAR.0","e":575561.1,"n":432521.2},{"s":"LiDAR.0","e":575559.7,"n":432521.3},{"s":"LiDAR.0","e":575558.1,"n":432522.7},{"s":"LiDAR.0","e":575556.4,"n":432521.5},{"s":"LiDAR.0","e":575555.5,"n":432521.8},{"s":"LiDAR.0","e":575553.6,"n":432521.5},{"s":"LiDAR.0","e":575552.7,"n":432520.1},{"s":"LiDAR.0","e":575553.1,"n":432518.2},{"s":"LiDAR.0","e":575554.3,"n":432517.4},{"s":"LiDAR.0","e":575555.0,"n":432515.8},{"s":"LiDAR.0","e":575554.8,"n":432514.4},{"s":"LiDAR.0","e":575552.2,"n":432514.7},{"s":"LiDAR.0","e":575550.3,"n":432515.2},{"s":"LiDAR.0","e":575548.4,"n":432514.8},{"s":"LiDAR.0","e":575547.8,"n":432513.2},{"s":"LiDAR.0","e":575546.5,"n":432513.7},{"s":"LiDAR.0","e":575544.4,"n":432513.7},{"s":"LiDAR.0","e":575544.1,"n":432515.8},{"s":"LiDAR.0","e":575543.0,"n":432516.2},{"s":"LiDAR.0","e":575541.1,"n":432515.6},{"s":"LiDAR.0","e":575540.35,"n":432514.1},{"s":"LiDAR.0","e":575538.0,"n":432514.7},{"s":"LiDAR.0","e":575535.6,"n":432515.3},{"s":"LiDAR.0","e":575533.5,"n":432516.5},{"s":"LiDAR.0","e":575531.9,"n":432517.4},{"s":"LiDAR.0","e":575530.9,"n":432517.0},{"s":"LiDAR.0","e":575530.4,"n":432515.8},{"s":"LiDAR.0","e":575529.0,"n":432516.0},{"s":"LiDAR.0","e":575527.6,"n":432517.2},{"s":"LiDAR.0","e":575527.1,"n":432519.3},{"s":"LiDAR.0","e":575525.7,"n":432519.7},{"s":"LiDAR.0","e":575525.0,"n":432520.3},{"s":"LiDAR.0","e":575524.5,"n":432523.1},{"s":"LiDAR.0","e":575522.9,"n":432524.9},{"s":"LiDAR.0","e":575521.2,"n":432525.1},{"s":"LiDAR.0","e":575520.0,"n":432524.6},{"s":"LiDAR.0","e":575518.4,"n":432524.8},{"s":"LiDAR.0","e":575517.4,"n":432523.8},{"s":"LiDAR.0","e":575516.7,"n":432525.0},{"s":"LiDAR.0","e":575515.8,"n":432525.9},{"s":"LiDAR.0","e":575516.0,"n":432526.7},{"s":"LiDAR.0","e":575517.9,"n":432526.9},{"s":"LiDAR.0","e":575519.3,"n":432527.6},{"s":"LiDAR.0","e":575519.6,"n":432528.6},{"s":"LiDAR.0","e":575520.7,"n":432529.8},{"s":"LiDAR.0","e":575521.0,"n":432530.7},{"s":"LiDAR.0","e":575520.5,"n":432531.7},{"s":"LiDAR.0","e":575520.5,"n":432533.3},{"s":"LiDAR.0","e":575519.3,"n":432534.1},{"s":"LiDAR.0","e":575518.0,"n":432534.5},{"s":"LiDAR.0","e":575518.1,"n":432536.4},{"s":"LiDAR.0","e":575517.7,"n":432537.8},{"s":"LiDAR.0","e":575517.9,"n":432538.5}]
},
"hconcat":[
{"width":484,"height":473,"title":{"text":"sampling points"},
"encoding":{"x":{"field":"e","type":"quantitative","scale":{"domain":[575507.3,575576],"nice":false,"zero":false},"axis":{"values":[575510,575520,575530,575540,575550,575560,575570],"format":"d","title":"Easting [m]"}},"y":{"field":"n","type":"quantitative","scale":{"domain":[432505.2,432572.4],"nice":false,"zero":false},"axis":{"values":[432510,432520,432530,432540,432550,432560,432570],"format":"d","title":"Northing [m]"}}},
"layer":[
{"data":{"name":"trees"},"transform":[{"window":[{"op":"row_number","as":"i"}]}],"mark":{"type":"line","fill":"white","stroke":"#333333","strokeWidth":1},"encoding":{"order":{"field":"i"}}},
{"data":{"name":"trees"},"mark":{"type":"circle","color":"black","size":36,"opacity":1}},
{"data":{"name":"sites"},"mark":{"type":"point","shape":"M-1,-0.73H1V0.73H-1Z","fill":"white","stroke":"#222222","strokeWidth":1.5,"size":225,"opacity":1,"filled":false}},
{"data":{"name":"sites"},"mark":{"type":"point","shape":"circle","stroke":"#222222","strokeWidth":1.2,"size":26,"opacity":1}},
{"data":{"name":"sites"},"transform":[{"filter":"length(datum.label)==3"}],"mark":{"type":"text","align":"right","dx":-12,"fontSize":8,"color":"#444444"},"encoding":{"text":{"field":"label"}}},
{"data":{"name":"sites"},"transform":[{"filter":"length(datum.label)==2"}],"mark":{"type":"text","align":"right","dx":-8,"fontSize":8,"color":"#444444"},"encoding":{"text":{"field":"label"}}},
{"data":{"values":[{"e":575509.1,"n":432509.4,"e2":575513.0,"n2":432506.4},{"e":575543.05,"n":432509.4,"e2":575547.0,"n2":432506.4}]},"mark":{"type":"rect","color":"white","opacity":1},"encoding":{"x2":{"field":"e2"},"y2":{"field":"n2"}}},
{"data":{"values":[{"e":575511.05,"n":432507.9}]},"mark":{"type":"point","shape":"M-1,-0.73H1V0.73H-1Z","fill":"white","stroke":"#222222","strokeWidth":1.5,"size":225,"opacity":1}},
{"data":{"values":[{"e":575511.05,"n":432507.9}]},"mark":{"type":"point","shape":"circle","stroke":"#555555","strokeWidth":1,"size":26,"opacity":1}},
{"data":{"values":[{"e":575544.0,"n":432507.0,"e2":575546.1,"n2":432508.7}]},"mark":{"type":"rule","color":"#333333","strokeWidth":1},"encoding":{"x2":{"field":"e2"},"y2":{"field":"n2"}}},
{"data":{"values":[{"e":575545.0,"n":432507.9}]},"mark":{"type":"circle","color":"black","size":36,"opacity":1}},
{"data":{"values":[{"e":575514.07,"n":432507.9,"t":"hemispherical photographs placement"},{"e":575548.06,"n":432507.9,"t":"trunks of trees \u00a0surrounding the gap"}]},"mark":{"type":"text","align":"left","fontSize":11.3,"color":"#333333"},"encoding":{"text":{"field":"t"}}},
{"data":{"values":[{"e":575504.18,"n":432575.4,"t":"(a)"}]},"mark":{"type":"text","align":"center","fontSize":28,"color":"#222222"},"encoding":{"text":{"field":"t"}}}
]},
{"width":484,"height":473,"title":{"text":"gap shape approximations"},
"encoding":{"x":{"field":"e","type":"quantitative","scale":{"domain":[575507.3,575576],"nice":false,"zero":false},"axis":{"values":[575510,575520,575530,575540,575550,575560,575570],"format":"d","title":"Easting [m]"}},"y":{"field":"n","type":"quantitative","scale":{"domain":[432505.2,432572.4],"nice":false,"zero":false},"axis":{"values":[432510,432520,432530,432540,432550,432560,432570],"format":"d","title":"Northing [m]"}}},
"layer":[
{"data":{"name":"trees"},"transform":[{"window":[{"op":"row_number","as":"i"}]}],"mark":{"type":"line","fill":"white","strokeWidth":0},"encoding":{"order":{"field":"i"}}},
{"encoding":{"order":{"field":"i"},
"color":{"field":"s","type":"nominal","scale":{"domain":["ELLIPSE","POLY.GAP","POLY.LiDAR","LiDAR.0","LiDAR.1","LiDAR.2","LiDAR.3","LiDAR.4","LiDAR.5"],"range":["#FF0000","#000000","#FFD000","#0000FF","#0000FF","#0000FF","#0000FF","#0000FF","#00CD00"]},"legend":{"title":null,"orient":"none","legendX":1005,"legendY":299,"symbolType":"stroke","symbolSize":484,"clipHeight":12,"rowPadding":1.6,"labelOffset":8,"labelFontSize":11.5,"labelColor":"#333333","fillColor":"white","strokeColor":"#222222","padding":7,"symbolOffset":2}},
"strokeDash":{"field":"s","type":"nominal","scale":{"domain":["ELLIPSE","POLY.GAP","POLY.LiDAR","LiDAR.0","LiDAR.1","LiDAR.2","LiDAR.3","LiDAR.4","LiDAR.5"],"range":[[1,0],[1,0],[1,0],[7,5],[1,2],[1,2],[1,2],[1,2],[7,5]]},"legend":{"title":null,"orient":"none","legendX":1005,"legendY":299,"symbolType":"stroke","symbolSize":484,"clipHeight":12,"rowPadding":1.6,"labelOffset":8,"labelFontSize":11.5,"labelColor":"#333333","fillColor":"white","strokeColor":"#222222","padding":7,"symbolOffset":2}},
"strokeWidth":{"field":"s","type":"nominal","scale":{"type":"ordinal","domain":["ELLIPSE","POLY.GAP","POLY.LiDAR","LiDAR.0","LiDAR.1","LiDAR.2","LiDAR.3","LiDAR.4","LiDAR.5"],"range":[2,2,2,2,0.7,0.7,0.7,0.7,2]},"legend":{"title":null,"orient":"none","legendX":1005,"legendY":299,"symbolType":"stroke","symbolSize":484,"clipHeight":12,"rowPadding":1.6,"labelOffset":8,"labelFontSize":11.5,"labelColor":"#333333","fillColor":"white","strokeColor":"#222222","padding":7,"symbolOffset":2}}},
"layer":[
{"data":{"name":"dots"},"transform":[{"window":[{"op":"row_number","as":"i"}]}],"mark":{"type":"line","interpolate":"cardinal","tension":0.2}},
{"data":{"name":"zero"},"transform":[{"window":[{"op":"row_number","as":"i"}]},{"calculate":"'POLY.LiDAR'","as":"s"}],"mark":{"type":"line","interpolate":"cardinal","tension":0.2}},
{"data":{"name":"zero"},"transform":[{"window":[{"op":"row_number","as":"i"}]}],"mark":{"type":"line","interpolate":"cardinal","tension":0.2}},
{"data":{"name":"trees"},"transform":[{"window":[{"op":"row_number","as":"i"}]},{"calculate":"'POLY.GAP'","as":"s"}],"mark":{"type":"line"}},
{"data":{"name":"ellipse"},"transform":[{"window":[{"op":"row_number","as":"i"}]}],"mark":{"type":"line","interpolate":"cardinal"}}
]},
{"data":{"values":[{"e":575501.35,"n":432575.4,"t":"(b)"}]},"mark":{"type":"text","align":"center","fontSize":28,"color":"#222222"},"encoding":{"text":{"field":"t"}}}
]}
]}
